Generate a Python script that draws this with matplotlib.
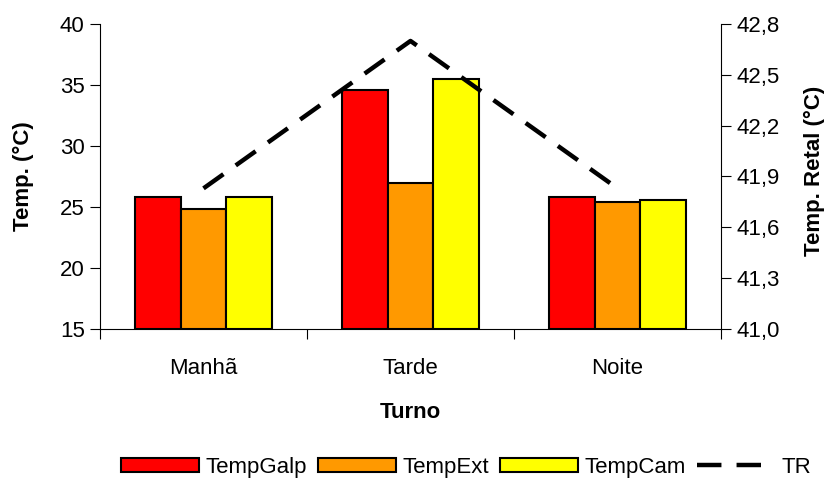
import matplotlib.pyplot as plt
import numpy as np

plt.rcParams["font.family"] = ["Liberation Sans", "DejaVu Sans"]

turnos = ["Manhã", "Tarde", "Noite"]
temp_galp = [25.8, 34.55, 25.8]
temp_ext = [24.8, 27.0, 25.4]
temp_cam = [25.8, 35.5, 25.6]
tr = [41.83, 42.70, 41.83]

left_ticks = [15, 20, 25, 30, 35, 40]
right_ticks = [41.0, 41.3, 41.6, 41.9, 42.2, 42.5, 42.8]

fig = plt.figure(figsize=(8.3, 4.94), dpi=100)
ax = fig.add_axes([100 / 830, 1 - 329 / 494, 621 / 830, 305 / 494])

x = np.arange(len(turnos))
w = 0.222
series = [("TempGalp", temp_galp, "#FF0000"),
          ("TempExt", temp_ext, "#FF9900"),
          ("TempCam", temp_cam, "#FFFF00")]
handles = []
for k, (name, vals, col) in enumerate(series):
    b = ax.bar(x + (k - 1) * w, np.array(vals) - 15, w, bottom=15, color=col,
               edgecolor="black", linewidth=1.5, label=name, zorder=2)
    handles.append(b)

ax.set_xlim(-0.5, 2.5)
ax.set_ylim(15, 40)
ax.set_yticks(left_ticks)
ax.set_xticks(x)
ax.set_xticklabels(turnos)
ax.set_xticks([-0.5, 0.5, 1.5, 2.5], minor=True)
ax.tick_params(axis="x", which="major", length=0, pad=21, labelsize=16)
ax.tick_params(axis="x", which="minor", length=7, direction="out", width=0.8)
ax.tick_params(axis="y", length=7, direction="out", width=0.8, labelsize=16, pad=4)
ax.spines["top"].set_visible(False)
ax.spines["right"].set_visible(False)
for s in ["left", "bottom"]:
    ax.spines[s].set_linewidth(0.8)
ax.set_ylabel("Temp. (°C)", fontsize=16, fontweight="bold")
ax.yaxis.set_label_coords(-0.124, 0.5)
ax.set_xlabel("Turno", fontsize=16, fontweight="bold")
ax.xaxis.set_label_coords(0.5, -0.275)

ax2 = ax.twinx()
line, = ax2.plot(x, tr, color="black", linewidth=3.2, linestyle=(0, (5.5, 3.4)),
                 label="TR", zorder=3)
ax2.set_ylim(41.0, 42.8)
ax2.set_yticks(right_ticks)
ax2.set_yticklabels([f"{v:.1f}".replace(".", ",") for v in right_ticks])
ax2.tick_params(axis="y", length=7, direction="out", width=0.8, labelsize=16, pad=4)
ax2.spines["top"].set_visible(False)
ax2.spines["left"].set_visible(False)
ax2.spines["bottom"].set_visible(False)
ax2.spines["right"].set_linewidth(0.8)
ax2.set_ylabel("Temp. Retal (°C)", fontsize=16, fontweight="bold")
ax2.yaxis.set_label_coords(1.151, 0.52)
ax2.yaxis.label.set_verticalalignment("center")
ax.yaxis.label.set_verticalalignment("center")
ax.xaxis.label.set_verticalalignment("center")

fig.legend(handles=handles + [line], labels=["TempGalp", "TempExt", "TempCam", "TR"],
           loc="center", bbox_to_anchor=(466 / 830, 1 - 467 / 494), ncol=4,
           frameon=False, fontsize=16, handlelength=3.5, handleheight=0.6,
           handletextpad=0.3, columnspacing=0.5, borderpad=0)

fig.savefig("out.png", dpi=100)
